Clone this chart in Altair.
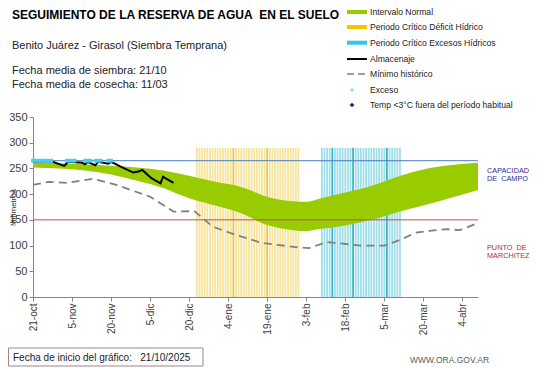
import altair as alt
import pandas as pd

# ---------------- data ----------------
tick_days = [0, 15, 30, 45, 60, 75, 90, 105, 120, 135, 150, 165]
tick_labels = ["21-oct", "5-nov", "20-nov", "5-dic", "20-dic", "4-ene", "19-ene",
               "3-feb", "18-feb", "5-mar", "20-mar", "4-abr"]
y_ticks = [0, 50, 100, 150, 200, 250, 300, 350]

band_days = [0, 10, 20, 30, 40, 50, 60, 70, 80, 90, 100, 105, 110, 120, 130, 140, 150, 160, 171]
band_low = [252, 250, 246, 238, 226, 212, 192, 178, 163, 140, 130, 128, 132, 139, 150, 165, 178, 192, 208]
band_high = [261, 260, 258, 255, 252, 246, 236, 224, 214, 195, 186, 185, 191, 203, 216, 234, 248, 256, 261]

min_days = [0, 6, 13, 23, 32, 45, 54, 62, 69, 76, 88, 101, 106, 113, 126, 135, 141, 147, 153, 159, 164, 171]
min_vals = [218, 224, 222, 230, 218, 195, 166, 167, 137, 124, 105, 97, 95, 107, 100, 100, 111, 125, 129, 132, 130, 144]

alm_days = [0, 7, 12, 13.5, 19, 20, 21, 24, 25, 29, 30, 33.5, 38.5, 40.5, 42, 45.5, 49, 50, 51.5, 54]
alm_vals = [263, 264, 255, 263, 261, 258, 263, 256, 263, 259, 263, 254, 242, 244, 247, 231, 221, 234, 229, 222]

exceso_days = [0, 1, 2, 3, 4, 5, 6, 7, 13, 14, 15, 16, 20, 21, 22, 24, 25, 26, 29, 30]
exceso_level = 265

deficit_days = [63, 64, 65, 66, 67, 68, 69, 70, 71, 72, 73, 74, 75, 76, 77, 78, 79, 80, 81, 82,
                83, 84, 85, 86, 87, 88, 89, 90, 91, 92, 93, 94, 95, 96, 97, 98, 99, 100, 101, 102]
deficit_dark = [77, 90]
excesos_days = [111, 112, 113, 114, 115, 116, 117, 118, 119, 120, 121, 122, 123, 124, 125, 126,
                127, 128, 129, 130, 131, 132, 133, 134, 135, 136, 137, 138, 139, 140, 141]
excesos_dark = [115, 123, 136]
period_top = 290

capacidad = 265
marchitez = 150

# ---------------- tables ----------------
band_df = pd.DataFrame({"day": band_days, "val": band_low, "hi": band_high})
min_df = pd.DataFrame({"day": min_days, "val": min_vals})
alm_df = pd.DataFrame({"day": alm_days, "val": alm_vals})
exc_df = pd.DataFrame({"day": exceso_days, "val": [exceso_level] * len(exceso_days)})
rows = []
for d in deficit_days:
    rows.append({"day": d, "val": period_top, "lo": 0,
                 "kind": "def_dark" if d in deficit_dark else "def"})
for d in excesos_days:
    rows.append({"day": d, "val": period_top, "lo": 0,
                 "kind": "exc_dark" if d in excesos_dark else "exc"})
per_df = pd.DataFrame(rows)
one = pd.DataFrame({"k": [0]})

FONT = "Liberation Sans"
AX = "#868686"
NB = "\u00a0"

label_expr = "[" + ",".join("'%s'" % s for s in tick_labels) + "][round(datum.value/15)]"

def X(field="day"):
    return alt.X(f"{field}:Q", scale=alt.Scale(domain=[0, 171], nice=False, zero=False),
                 axis=alt.Axis(values=tick_days, labelExpr=label_expr, labelAngle=-90,
                               labelFontSize=10, labelFont=FONT, labelColor="#404040",
                               tickSize=4, tickColor=AX, domainColor=AX, grid=False,
                               labelPadding=2, title=None))

def Y(field="val"):
    return alt.Y(f"{field}:Q", scale=alt.Scale(domain=[0, 350], nice=False),
                 axis=alt.Axis(values=y_ticks, labelFontSize=11, labelFont=FONT,
                               labelColor="#404040", tickSize=4, tickColor=AX,
                               domainColor=AX, grid=False, labelPadding=2,
                               title="Milímetros", titleFontSize=8, titleFont=FONT,
                               titleFontWeight="normal", titleColor="#333333",
                               titleX=-20, titleY=90, titleAlign="center",
                               titleBaseline="middle", titleAngle=270))

periods = alt.Chart(per_df).mark_rule(strokeWidth=1.8).encode(
    x=X(), y=Y(), y2="lo:Q",
    color=alt.Color("kind:N", legend=None,
                    scale=alt.Scale(domain=["def", "def_dark", "exc", "exc_dark"],
                                    range=["#f6e49c", "#e6c845", "#9fdfea", "#3db4c9"])))

band = alt.Chart(band_df).mark_area(color="#99cc00", interpolate="monotone").encode(
    x=X(), y=Y(), y2="hi:Q")

cap_rule = alt.Chart(pd.DataFrame({"val": [capacidad]})).mark_rule(
    color="#4a7ebb", strokeWidth=1).encode(y=Y())
mar_rule = alt.Chart(pd.DataFrame({"val": [marchitez]})).mark_rule(
    color="#b5554f", strokeWidth=1).encode(y=Y())

min_line = alt.Chart(min_df).mark_line(color="#808080", strokeWidth=1.8,
                                       strokeDash=[8, 5]).encode(x=X(), y=Y())
alm_line = alt.Chart(alm_df).mark_line(color="#000000", strokeWidth=2).encode(x=X(), y=Y())
exc_pts = alt.Chart(exc_df).mark_square(color="#45cdf0", size=14, opacity=1).encode(x=X(), y=Y())


def txt(s, x, y, size=11, color="#000000", bold=False, align="left", baseline="alphabetic"):
    return alt.Chart(one).mark_text(
        text=s, font=FONT, fontSize=size, color=color, align=align, baseline=baseline,
        fontWeight="bold" if bold else "normal").encode(x=alt.value(x), y=alt.value(y))


def hline(x1, x2, y, color, width, dash=None):
    kw = dict(color=color, strokeWidth=width)
    if dash:
        kw["strokeDash"] = dash
    return alt.Chart(one).mark_rule(**kw).encode(
        x=alt.value(x1), x2=alt.value(x2), y=alt.value(y))

OX, OY = 33, 117  # plot origin on page

texts = [
    txt("SEGUIMIENTO DE LA RESERVA DE AGUA" + NB + NB + "EN EL SUELO", 12 - OX, 19 - OY, 12, bold=True),
    txt("Benito Juárez - Girasol (Siembra Temprana)", 12 - OX, 49 - OY, 11, "#222222"),
    txt("Fecha media de siembra: 21/10", 12 - OX, 74 - OY, 11, "#222222"),
    txt("Fecha media de cosecha: 11/03", 12 - OX, 88 - OY, 11, "#222222"),
    txt("CAPACIDAD", 487 - OX, 172.5 - OY, 7.3, "#2d2d9a"),
    txt("DE" + NB + NB + "CAMPO", 487 - OX, 181.3 - OY, 7.3, "#2d2d9a"),
    txt("PUNTO" + NB + NB + "DE", 487 - OX, 250 - OY, 7.3, "#b03030"),
    txt("MARCHITEZ", 487 - OX, 258.3 - OY, 7.3, "#b03030"),
    txt("WWW.ORA.GOV.AR", 410 - OX, 363 - OY, 8.5, "#595959"),
]

footer_box = alt.Chart(one).mark_rect(fill="white", stroke="#a08585", strokeWidth=1).encode(
    x=alt.value(8.5 - OX), x2=alt.value(203 - OX), y=alt.value(348 - OY), y2=alt.value(366 - OY))
footer_txt = txt("Fecha de inicio del gráfico:" + NB + NB + NB + "21/10/2025", 13 - OX, 361 - OY, 10, "#222222")

# legend
LX1, LX2, LT = 347 - OX, 367 - OX, 370 - OX
rows_y = [12, 27, 42.7, 59, 74, 90, 105]
leg_labels = ["Intervalo Normal", "Periodo Crítico Déficit Hídrico",
              "Periodo Crítico Excesos Hídricos", "Almacenaje", "Mínimo histórico",
              "Exceso", "Temp <3°C fuera del período habitual"]
legend = [
    hline(LX1, LX2, rows_y[0] - OY, "#99cc00", 4),
    hline(LX1, LX2, rows_y[1] - OY, "#f5c400", 4),
    hline(LX1, LX2, rows_y[2] - OY, "#33c4ee", 4),
    hline(LX1, LX2, rows_y[3] - OY, "#000000", 2),
    hline(LX1, LX2, rows_y[4] - OY, "#808080", 1.5, [7, 4]),
    alt.Chart(one).mark_square(color="#45cdf0", size=8).encode(
        x=alt.value(352 - OX), y=alt.value(rows_y[5] - OY)),
    alt.Chart(one).mark_point(shape="diamond", filled=True, size=22, color="#1c1c8c", opacity=1).encode(
        x=alt.value(352 - OX), y=alt.value(rows_y[6] - OY)),
]
for lab, yy in zip(leg_labels, rows_y):
    legend.append(txt(lab, LT, yy - OY, 8.6, "#222222", baseline="middle"))

chart = alt.layer(
    periods, band, cap_rule, mar_rule, min_line, alm_line, exc_pts,
    footer_box, footer_txt, *texts, *legend
).properties(
    width=445, height=180,
    padding={"left": 25, "top": 109, "right": 55, "bottom": 70},
    autosize=alt.AutoSizeParams(type="none"),
    background="white",
).configure_view(stroke=None)

chart.save("out.html", embed_options={"renderer": "svg", "actions": False})
